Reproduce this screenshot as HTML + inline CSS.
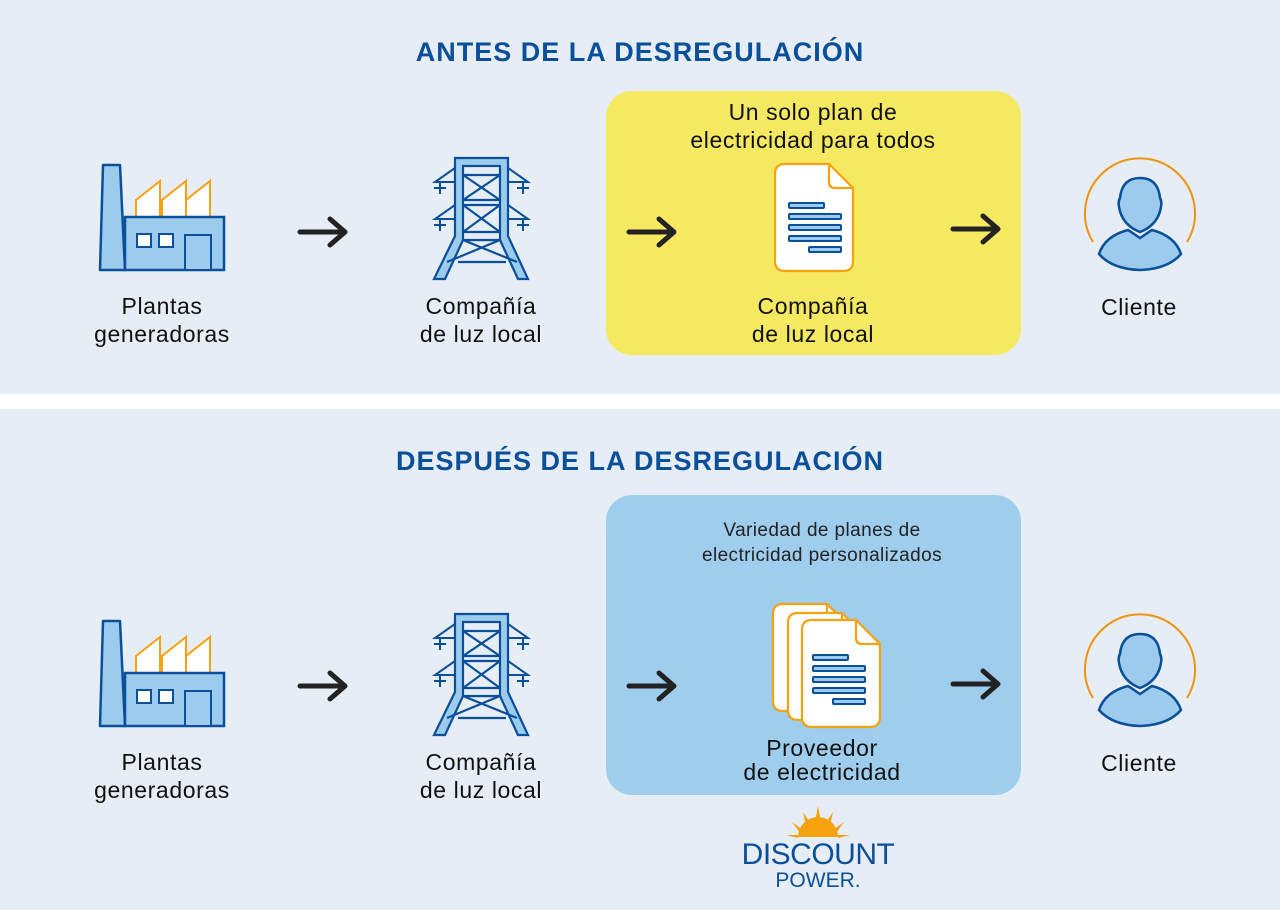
<!DOCTYPE html>
<html><head><meta charset="utf-8"><style>
html,body{margin:0;padding:0;background:#fff;}
svg{display:block}
text{font-family:"Liberation Sans",sans-serif;}
</style></head><body>
<svg width="1280" height="910" viewBox="0 0 1280 910" xmlns="http://www.w3.org/2000/svg">
<defs>
<g id="factory">
  <polygon points="103,165 120,165 125,270 100,270" fill="#9ccbee" stroke="#0a4f9a" stroke-width="2.5" stroke-linejoin="round"/>
  <polygon points="136,217 136,200 160,181 160,217" fill="#fff" stroke="#f5a20e" stroke-width="2"/>
  <polygon points="162,217 162,200 186,181 186,217" fill="#fff" stroke="#f5a20e" stroke-width="2"/>
  <polygon points="186,217 186,200 210,181 210,217" fill="#fff" stroke="#f5a20e" stroke-width="2"/>
  <rect x="125" y="217" width="99" height="53" fill="#9ccbee" stroke="#0a4f9a" stroke-width="2.5"/>
  <rect x="137" y="234" width="14" height="13" fill="#fff" stroke="#0a4f9a" stroke-width="2"/>
  <rect x="159" y="234" width="14" height="13" fill="#fff" stroke="#0a4f9a" stroke-width="2"/>
  <rect x="185" y="235" width="26" height="35" fill="#9ccbee" stroke="#0a4f9a" stroke-width="2"/>
</g>
<g id="tower" stroke="#0a4f9a" stroke-width="2.2" fill="none">
  <g stroke-width="2">
    <path d="M455,168 L435,182 L455,182 M440,182 V194 M434,188 H446"/>
    <path d="M455,205 L435,219 L455,219 M440,219 V231 M434,225 H446"/>
    <path d="M508,168 L528,182 L508,182 M523,182 V194 M517,188 H529"/>
    <path d="M508,205 L528,219 L508,219 M523,219 V231 M517,225 H529"/>
  </g>
  <polygon points="455,158 508,158 508,236 528,279 518,279 500,240 463,240 445,279 434,279 455,236" fill="#9ccbee"/>
  <rect x="463" y="166" width="37" height="74" fill="#e6edf5"/>
  <path d="M463,175 H500 M463,200 H500 M463,205 H500 M463,232 H500 M463,175 L500,200 M500,175 L463,200 M463,205 L500,232 M500,205 L463,232"/>
  <path d="M458,262 H506 M463,240 L517,262 M500,240 L447,262" fill="none"/>
</g>
<g id="doc">
  <path d="M785,164 H829 L853,188 V261 Q853,271 843,271 H785 Q775,271 775,261 V174 Q775,164 785,164 Z" fill="#fff" stroke="#f5a20e" stroke-width="2.2"/>
  <path d="M829,164 V182 Q829,188 835,188 H853" fill="none" stroke="#f5a20e" stroke-width="2.2"/>
</g>
<g id="lines" fill="#9ccbee" stroke="#0a4f9a" stroke-width="2">
  <rect x="0" y="0" width="35" height="5" rx="1"/>
  <rect x="0" y="11" width="52" height="5" rx="1"/>
  <rect x="0" y="22" width="52" height="5" rx="1"/>
  <rect x="0" y="33" width="52" height="5" rx="1"/>
  <rect x="20" y="44" width="32" height="5" rx="1"/>
</g>
<g id="person">
  <path d="M1093,242 A55,55 0 1 1 1187,242" fill="none" stroke="#f0930e" stroke-width="2"/>
  <path d="M1099,254 Q1105,236 1128,230 L1140,238 L1152,230 Q1175,236 1181,254 Q1168,269 1140,270 Q1112,269 1099,254 Z" fill="#9ccbee" stroke="#0a4f9a" stroke-width="2.5"/>
  <path d="M1140,178 Q1122,178 1120,198 Q1118,201 1119,207 Q1122,225 1140,232 Q1158,225 1161,207 Q1162,201 1160,198 Q1158,178 1140,178 Z" fill="#9ccbee" stroke="#0a4f9a" stroke-width="2.5"/>
</g>
<g id="arrow" stroke="#222" stroke-width="5" fill="none" stroke-linecap="round" stroke-linejoin="round">
  <path d="M0,0 H44 M30,-13 L45,0 L30,13"/>
</g>
</defs>
<rect x="0" y="0" width="1280" height="394" fill="#e6edf5"/>
<rect x="0" y="409" width="1280" height="501" fill="#e6edf5"/>

<text x="640" y="61" text-anchor="middle" font-size="27" font-weight="bold" fill="#0a4f9a" letter-spacing="1">ANTES DE LA DESREGULACIÓN</text>
<text x="640" y="470" text-anchor="middle" font-size="27" font-weight="bold" fill="#0a4f9a" letter-spacing="1">DESPUÉS DE LA DESREGULACIÓN</text>

<rect x="606" y="91" width="415" height="264" rx="26" fill="#f5e961"/>
<rect x="606" y="495" width="415" height="300" rx="26" fill="#9ecdee"/>

<use href="#factory"/>
<use href="#tower"/>
<use href="#doc"/>
<use href="#lines" x="789" y="203"/>
<use href="#person"/>
<use href="#arrow" x="300" y="232"/>
<use href="#arrow" x="629" y="232"/>
<use href="#arrow" x="953" y="229"/>

<g font-size="23" fill="#111" text-anchor="middle" letter-spacing="0.6">
<text x="162" y="314">Plantas</text><text x="162" y="342">generadoras</text>
<text x="481" y="314">Compañía</text><text x="481" y="342">de luz local</text>
<text x="813" y="120">Un solo plan de</text><text x="813" y="148">electricidad para todos</text>
<text x="813" y="314">Compañía</text><text x="813" y="342">de luz local</text>
<text x="1139" y="315">Cliente</text>
</g>

<g transform="translate(0,456)">
<use href="#factory"/>
<use href="#tower"/>
<use href="#person"/>
</g>
<use href="#arrow" x="300" y="686"/>
<use href="#arrow" x="629" y="686"/>
<use href="#arrow" x="953" y="684"/>
<g transform="translate(-2,440)"><use href="#doc"/></g>
<g transform="translate(13,449)"><use href="#doc"/></g>
<g transform="translate(27,456)"><use href="#doc"/></g>
<use href="#lines" x="813" y="655"/>

<g font-size="23" fill="#111" text-anchor="middle" letter-spacing="0.6">
<text x="162" y="770">Plantas</text><text x="162" y="798">generadoras</text>
<text x="481" y="770">Compañía</text><text x="481" y="798">de luz local</text>
<text x="822" y="756">Proveedor</text><text x="822" y="780">de electricidad</text>
<text x="1139" y="771">Cliente</text>
</g>
<g font-size="19" fill="#222" text-anchor="middle" letter-spacing="0.4">
<text x="822" y="536">Variedad de planes de</text><text x="822" y="561">electricidad personalizados</text>
</g>

<g fill="#f5a20e">
  <path d="M798,837 A20,20 0 0 1 838,837 Z"/>
  <polygon points="818,806 821,822 815,822"/>
  <polygon points="803,812 811,824 806,826"/>
  <polygon points="833,812 830,826 825,824"/>
  <polygon points="792,822 803,830 800,833"/>
  <polygon points="844,822 836,833 833,830"/>
  <polygon points="786,835 798,835 798,838"/>
  <polygon points="850,835 838,838 838,835"/>
</g>
<text x="818" y="864" text-anchor="middle" font-size="30" fill="#0a4f9a" letter-spacing="-0.5">DISCOUNT</text>
<text x="818" y="887" text-anchor="middle" font-size="21" fill="#0a4f9a">POWER.</text>
</svg>
</body></html>
